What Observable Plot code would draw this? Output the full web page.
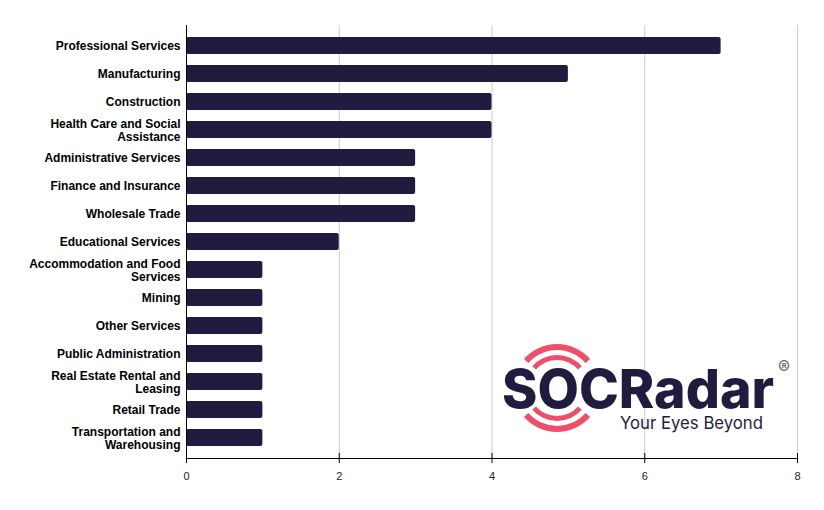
<!DOCTYPE html>
<html><head><meta charset="utf-8">
<script src="https://cdn.jsdelivr.net/npm/d3@7"></script>
<script src="https://cdn.jsdelivr.net/npm/@observablehq/plot@0.6"></script>
<style>
html,body{margin:0;padding:0;background:#fff;}
#chart{position:relative;width:824px;height:510px;}
</style>
</head><body>
<div id="chart"></div>
<script>
const categories = [
  "Professional Services",
  "Manufacturing",
  "Construction",
  "Health Care and Social\nAssistance",
  "Administrative Services",
  "Finance and Insurance",
  "Wholesale Trade",
  "Educational Services",
  "Accommodation and Food\nServices",
  "Mining",
  "Other Services",
  "Public Administration",
  "Real Estate Rental and\nLeasing",
  "Retail Trade",
  "Transportation and\nWarehousing"
];
const values = [7, 5, 4, 4, 3, 3, 3, 2, 1, 1, 1, 1, 1, 1, 1];
const xTicks = [0, 2, 4, 6, 8];

const data = categories.map((c, i) => ({category: c, value: values[i]}));

const plot = Plot.plot({
  width: 824,
  height: 510,
  marginLeft: 186,
  marginRight: 27,
  marginTop: 25,
  marginBottom: 52,
  style: {fontFamily: "Liberation Sans, Arial, sans-serif", background: "#fff"},
  x: {domain: [0, 8], ticks: xTicks},
  y: {domain: categories, paddingInner: 0.4, paddingOuter: 0.35},
  marks: [
    Plot.gridX(xTicks, {stroke: "#cccccc", strokeOpacity: 1}),
    Plot.barX(data, {x: "value", y: "category", fill: "#1f1c40", rx: 2}),
    Plot.frame({anchor: "left", stroke: "#000"}),
    Plot.frame({anchor: "bottom", stroke: "#000"}),
    Plot.axisX(xTicks, {tickSize: 10, dy: -5, text: null, stroke: "#000", label: null}),
    Plot.axisX(xTicks, {tickSize: 0, tickPadding: 14, fontSize: 11, fill: "#222", label: null}),
    Plot.axisY({tickSize: 0, tickPadding: 6, fontSize: 12, fontWeight: "bold", fill: "#000", lineHeight: 1.15, label: null})
  ]
});
document.getElementById("chart").appendChild(plot);

// SOCRadar watermark logo
const svg = d3.select(plot);
const g = svg.append("g").attr("class", "logo").attr("text-anchor", "start");
const cx = 557, cy = 388;
const arcGen = d3.arc();
[[28, 33], [38, 44]].forEach(([r0, r1]) => {
  [[-0.85, 0.85], [Math.PI - 0.85, Math.PI + 0.85]].forEach(([a0, a1]) => {
    g.append("path")
      .attr("transform", `translate(${cx},${cy})`)
      .attr("d", arcGen({innerRadius: r0, outerRadius: r1, startAngle: a0, endAngle: a1, cornerRadius: 2.5}))
      .attr("fill", "#f04e68");
  });
});
g.append("text")
  .attr("x", 502).attr("y", 408)
  .attr("text-anchor", "start")
  .attr("textLength", 272).attr("lengthAdjust", "spacingAndGlyphs")
  .attr("font-family", "Inter, 'Open Sans', sans-serif")
  .attr("font-weight", 800).attr("font-size", 54)
  .attr("fill", "#1f1c40")
  .text("SOCRadar");
g.append("text")
  .attr("x", 620).attr("y", 429)
  .attr("text-anchor", "start")
  .attr("textLength", 143).attr("lengthAdjust", "spacingAndGlyphs")
  .attr("font-family", "Inter, 'Open Sans', sans-serif")
  .attr("font-weight", 400).attr("font-size", 17)
  .attr("fill", "#1f1c40")
  .text("Your Eyes Beyond");
g.append("text")
  .attr("x", 784).attr("y", 374)
  .attr("text-anchor", "middle")
  .attr("font-family", "Inter, 'Open Sans', sans-serif")
  .attr("font-size", 18)
  .attr("fill", "#666")
  .text("®");
</script>
</body></html>
